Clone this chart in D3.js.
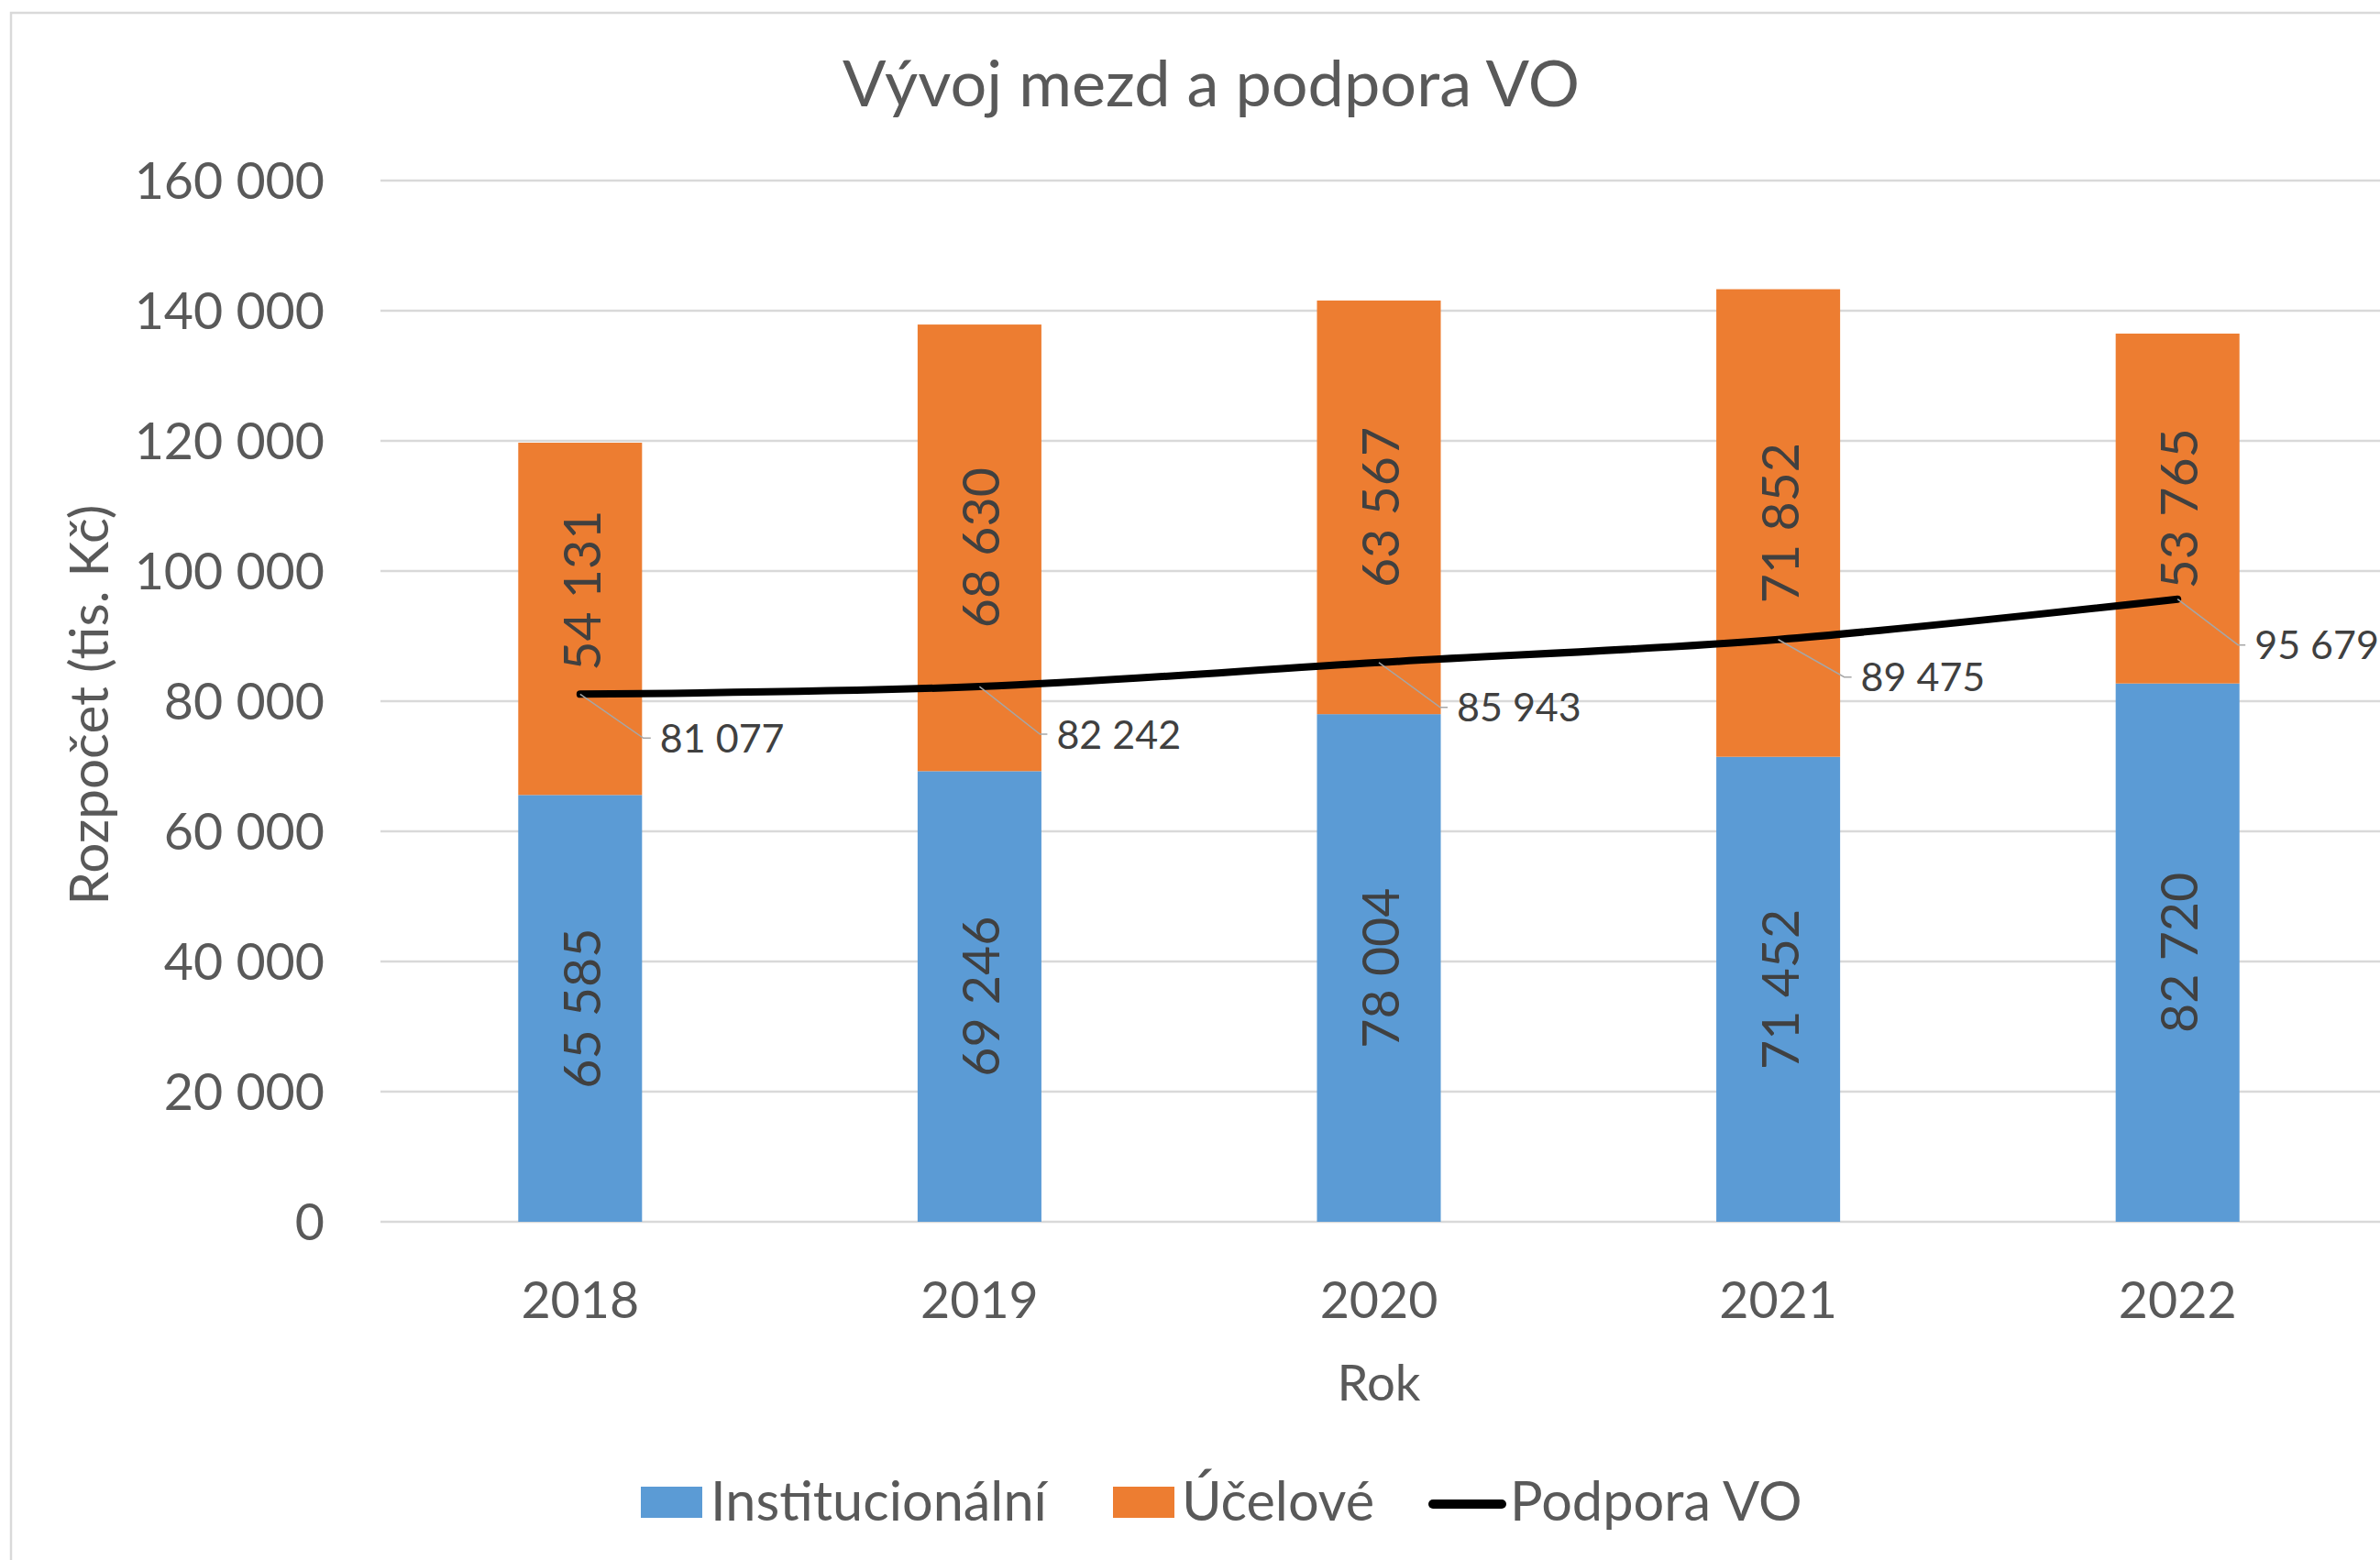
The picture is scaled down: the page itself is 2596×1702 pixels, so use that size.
<!DOCTYPE html>
<html>
<head>
<meta charset="utf-8">
<script src="https://cdn.jsdelivr.net/npm/d3@7"></script>
<style>
	body { margin: 0; background: #fff; }
	svg { display: block; font-family: Lato, "Open Sans", sans-serif; }
</style>
</head>
<body>
<svg width="2596" height="1702"></svg>
<script>
'use strict';

const years = ["2018", "2019", "2020", "2021", "2022"];
const institucionalni = [65585, 69246, 78004, 71452, 82720];
const ucelove = [54131, 68630, 63567, 71852, 53765];
const podporaVO = [81077, 82242, 85943, 89475, 95679];
const yTicks = [0, 20000, 40000, 60000, 80000, 100000, 120000, 140000, 160000];
const legendNames = ["Institucionální", "Účelové", "Podpora VO"];

const BLUE = "#5b9bd5", ORANGE = "#ed7d31", GRID = "#d9d9d9", TEXT = "#595959", LABEL = "#404040";

const svg = d3.select("svg");
const fmt = d3.formatLocale({ decimal: ",", thousands: " ", grouping: [3], currency: ["", ""] }).format(",d");

// scale text so it covers the given width
function fit(text, width) {
	const w = text.node().getComputedTextLength();
	const fs = parseFloat(text.attr("font-size"));
	text.attr("font-size", fs * width / w);
	return fs * width / w;
}

// chart frame
svg.append("rect")
	.attr("x", 12).attr("y", 14)
	.attr("width", 2640).attr("height", 1740)
	.attr("fill", "#fff")
	.attr("stroke", GRID)
	.attr("stroke-width", 2.5);

const x = d3.scaleBand()
	.domain(years)
	.range([415, 2593])
	.paddingInner(0.69)
	.paddingOuter(0.345);

const y = d3.scaleLinear()
	.domain([0, 160000])
	.range([1333, 197]);

// gridlines + y axis
const yAxis = svg.append("g")
	.attr("transform", "translate(354,0)")
	.call(d3.axisLeft(y).tickValues(yTicks).tickFormat(fmt).tickSize(0).tickPadding(0));
yAxis.select(".domain").remove();
yAxis.selectAll("text")
	.attr("font-size", 55.5)
	.attr("font-family", "Lato")
	.attr("fill", TEXT)
	.attr("dy", "0.36em");

svg.append("g")
	.selectAll("line")
	.data(yTicks)
	.enter().append("line")
	.attr("x1", 415).attr("x2", 2600)
	.attr("y1", d => y(d)).attr("y2", d => y(d))
	.attr("stroke", GRID)
	.attr("stroke-width", 2.5);

// x axis
const xAxis = svg.append("g")
	.attr("transform", "translate(0,1438)")
	.call(d3.axisBottom(x).tickSize(0).tickPadding(0));
xAxis.select(".domain").remove();
xAxis.selectAll("text")
	.attr("font-size", 55.5)
	.attr("font-family", "Lato")
	.attr("fill", TEXT)
	.attr("dy", 0);

// stacked bars
const stackData = years.map((yr, i) => ({ year: yr, inst: institucionalni[i], ucel: ucelove[i] }));
const series = d3.stack().keys(["inst", "ucel"])(stackData);
const colors = [BLUE, ORANGE];
const ucelShift = [-31, 0, 0, 0, 0];

series.forEach((s, si) => {
	const g = svg.append("g");
	g.selectAll("rect")
		.data(s)
		.enter().append("rect")
		.attr("x", d => x(d.data.year))
		.attr("width", x.bandwidth())
		.attr("y", d => y(d[1]))
		.attr("height", d => y(d[0]) - y(d[1]))
		.attr("fill", colors[si]);
	g.selectAll("text")
		.data(s)
		.enter().append("text")
		.attr("transform", (d, i) => {
			const cx = x(d.data.year) + x.bandwidth() / 2 + 2;
			const cy = y((d[0] + d[1]) / 2) + (si === 1 ? ucelShift[i] : 0);
			return `translate(${cx},${cy}) rotate(-90)`;
		})
		.attr("text-anchor", "middle")
		.attr("dy", "0.36em")
		.attr("font-size", 55.5)
		.attr("fill", LABEL)
		.text(d => fmt(d[1] - d[0]));
});

// Podpora VO line
const pts = years.map((yr, i) => [x(yr) + x.bandwidth() / 2, y(podporaVO[i])]);
svg.append("path")
	.attr("d", d3.line().curve(d3.curveCatmullRom.alpha(0.5))(pts))
	.attr("fill", "none")
	.attr("stroke", "#000")
	.attr("stroke-width", 8)
	.attr("stroke-linecap", "round");

// label offsets from each point (as placed in the original)
const labelDx = [87, 84, 85, 90, 84];
const labelDy = [48, 52, 49, 41, 50];
const lineLabels = svg.append("g");
pts.forEach((p, i) => {
	const lx = p[0] + labelDx[i], ly = p[1] + labelDy[i];
	lineLabels.append("path")
		.attr("d", `M${p[0]},${p[1]}L${lx - 18},${ly}L${lx - 10},${ly}`)
		.attr("fill", "none")
		.attr("stroke", "#a6a6a6")
		.attr("stroke-width", 1.5);
	lineLabels.append("text")
		.attr("x", lx).attr("y", ly)
		.attr("dy", "0.36em")
		.attr("font-size", 43)
		.attr("fill", LABEL)
		.text(fmt(podporaVO[i]));
});

// titles
const title = svg.append("text")
	.attr("x", 1321).attr("y", 116)
	.attr("text-anchor", "middle")
	.attr("font-size", 70)
	.attr("fill", TEXT)
	.text("Vývoj mezd a podpora VO");
fit(title, 804);

const yTitle = svg.append("text")
	.attr("transform", "translate(118,769) rotate(-90)")
	.attr("text-anchor", "middle")
	.attr("font-size", 55)
	.attr("fill", TEXT)
	.text("Rozpočet (tis. Kč)");
fit(yTitle, 437);

const xTitle = svg.append("text")
	.attr("x", 1504).attr("y", 1528)
	.attr("text-anchor", "middle")
	.attr("font-size", 55)
	.attr("fill", TEXT)
	.text("Rok");
fit(xTitle, 91);

// legend
const legend = svg.append("g");
legend.append("rect").attr("x", 699).attr("y", 1622).attr("width", 67).attr("height", 34).attr("fill", BLUE);
legend.append("rect").attr("x", 1214).attr("y", 1622).attr("width", 67).attr("height", 34).attr("fill", ORANGE);
legend.append("line")
	.attr("x1", 1563).attr("x2", 1638)
	.attr("y1", 1641).attr("y2", 1641)
	.attr("stroke", "#000").attr("stroke-width", 10)
	.attr("stroke-linecap", "round");
const legendX = [775, 1289, 1647];
const legendTexts = legend.selectAll("text")
	.data(legendNames)
	.enter().append("text")
	.attr("x", (d, i) => legendX[i])
	.attr("y", 1659)
	.attr("font-size", 58)
	.attr("fill", TEXT)
	.text(d => d);
const lfs = fit(d3.select(legendTexts.nodes()[0]), 367);
legendTexts.attr("font-size", lfs);
</script>
</body>
</html>
